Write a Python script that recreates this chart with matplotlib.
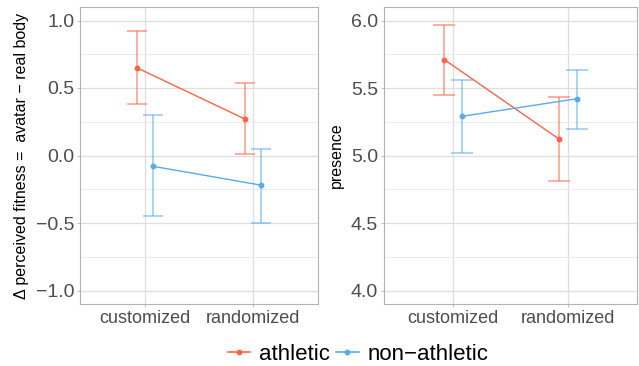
import matplotlib
matplotlib.use('Agg')
import matplotlib.pyplot as plt
from matplotlib.lines import Line2D
import numpy as np

plt.rcParams['font.family'] = ['Liberation Sans', 'DejaVu Sans']

conditions = ['customized', 'randomized']
groups = ['athletic', 'non\u2212athletic']
colors = ['#FF6347', '#5AAAEB']

# delta perceived fitness (mean, lower CI, upper CI)
fit_mean = [[0.65, 0.27], [-0.08, -0.22]]
fit_lo = [[0.38, 0.01], [-0.45, -0.50]]
fit_hi = [[0.92, 0.54], [0.30, 0.05]]

# presence
pres_mean = [[5.71, 5.12], [5.29, 5.42]]
pres_lo = [[5.45, 4.81], [5.02, 5.20]]
pres_hi = [[5.97, 5.43], [5.56, 5.63]]

W, H = 639, 366
fig = plt.figure(figsize=(W / 100, H / 100), dpi=100)

def panel(rect, mean, lo, hi, ylim, yticks, ylabel):
    ax = fig.add_axes(rect)
    x = np.arange(1, len(conditions) + 1)
    dodge = [-0.075, 0.075]
    cap = 0.095
    for g in range(len(groups)):
        xs = x + dodge[g]
        ax.vlines(xs, lo[g], hi[g], color=colors[g], alpha=0.6, lw=1.2, zorder=3)
        ax.hlines(lo[g], xs - cap, xs + cap, color=colors[g], alpha=0.6, lw=1.2, zorder=3)
        ax.hlines(hi[g], xs - cap, xs + cap, color=colors[g], alpha=0.6, lw=1.2, zorder=3)
        ax.plot(xs, mean[g], color=colors[g], lw=1.0, marker='o', ms=3.2, zorder=4)
    ax.set_xlim(0.4, 2.6)
    ax.set_ylim(*ylim)
    ax.set_xticks(x)
    ax.set_xticklabels(conditions)
    ax.set_yticks(yticks)
    ax.set_yticklabels(['%.1f' % t if t >= 0 else '\u2212%.1f' % -t for t in yticks])
    minor = [(yticks[i] + yticks[i + 1]) / 2 for i in range(len(yticks) - 1)]
    ax.set_yticks(minor, minor=True)
    ax.grid(True, which='major', color='#DEDEDE', lw=0.9, zorder=0)
    ax.grid(True, which='minor', axis='y', color='#EBEBEB', lw=0.7, zorder=0)
    ax.set_axisbelow(True)
    for s in ax.spines.values():
        s.set_color('#B3B3B3')
        s.set_linewidth(0.8)
    ax.tick_params(axis='both', which='major', length=2.2, width=0.6,
                   color='#B3B3B3', labelcolor='#4D4D4D', pad=2)
    ax.tick_params(axis='both', which='minor', length=0)
    ax.tick_params(axis='y', labelsize=14)
    ax.tick_params(axis='x', labelsize=13)
    ax.set_ylabel(ylabel, fontsize=11.5, color='black', labelpad=5)
    return ax

panel([80 / W, 62 / H, 238 / W, 297 / H], fit_mean, fit_lo, fit_hi,
      (-1.1, 1.1), [-1.0, -0.5, 0.0, 0.5, 1.0],
      '\u0394 perceived fitness =  avatar \u2212 real body')
panel([384 / W, 62 / H, 253 / W, 297 / H], pres_mean, pres_lo, pres_hi,
      (3.9, 6.1), [4.0, 4.5, 5.0, 5.5, 6.0], 'presence')

handles = [Line2D([], [], color=c, marker='o', ms=3.2, lw=1.2) for c in colors]
fig.legend(handles, groups, loc='center', bbox_to_anchor=(358 / W, 12 / H), ncol=2,
           frameon=False, fontsize=16, handlelength=1.0, handletextpad=0.4,
           columnspacing=0.3)

fig.savefig('out.png', dpi=100)
